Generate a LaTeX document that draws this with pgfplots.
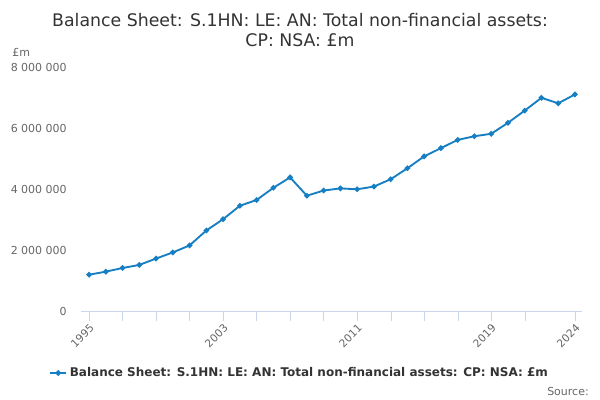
\documentclass[border=0pt]{standalone}
\usepackage{pgfplots}
\pgfplotsset{compat=1.18}
\usepackage{fontspec}
\setmainfont{DejaVu Sans}

\definecolor{lineblue}{RGB}{22,127,196}
\definecolor{txtgray}{RGB}{102,102,102}
\definecolor{titlegray}{RGB}{51,51,51}
\definecolor{gridgray}{RGB}{230,230,230}
\definecolor{axisblue}{RGB}{204,214,235}

\begin{document}
\begin{tikzpicture}[x=0.75pt,y=0.75pt]
	\path[use as bounding box] (0,0) rectangle (600,400);

	% title
	\node[font=\fontsize{13}{15}\selectfont, text=titlegray] at (300,380) {Balance Sheet: S.1HN: LE: AN: Total non-financial assets:};
	\node[font=\fontsize{13}{15}\selectfont, text=titlegray] at (300,360) {CP: NSA: £m};

	% unit label
	\node[font=\fontsize{8.25}{10}\selectfont, text=txtgray, anchor=west, inner sep=0pt] at (12,348) {£m};

	% source
	\node[font=\fontsize{8.25}{10}\selectfont, text=txtgray, anchor=east, inner sep=0pt] at (589,9) {Source:};

	\begin{axis}[
		at={(60.75pt,66.75pt)},
		anchor=south west,
		scale only axis,
		width=375.75pt,
		height=183pt,
		xmin=1994.52, xmax=2024.42,
		ymin=0, ymax=8000000,
		axis y line=none,
		axis x line*=bottom,
		x axis line style={draw=axisblue},
		xtick={1995,2003,2011,2019,2024},
		xticklabels={1995,2003,2011,2019,2024},
		minor xtick={1997,1999,2001,2005,2007,2009,2013,2015,2017,2021},
		xtick style={draw=axisblue},
		minor x tick style={draw=axisblue},
		tick align=outside,
		major tick length=7.5pt,
		minor tick length=7.5pt,
		xticklabel style={rotate=45, anchor=north east, font=\fontsize{8}{10}\selectfont, text=txtgray, inner sep=1pt},
		ytick={0,2000000,4000000,6000000,8000000},
		ymajorgrids=true,
		grid style={draw=gridgray, line width=0.6pt},
		legend style={at={(0.437,-0.254)}, anchor=center, draw=none, fill=none,
			font=\bfseries\fontsize{9}{11}\selectfont, text=titlegray},
		legend image code/.code={
			\draw[mark repeat=2,mark phase=2,#1] plot coordinates {(0cm,0cm)(0.21cm,0cm)(0.42cm,0cm)};
		},
		clip=false,
	]
	\addplot[
		color=lineblue,
		line width=1.4pt,
		mark=*,
		mark size=1.3pt,
	]
	coordinates {
		(1995,1190000)(1996,1290000)(1997,1410000)(1998,1510000)(1999,1720000)
		(2000,1920000)(2001,2150000)(2002,2640000)(2003,3010000)(2004,3450000)
		(2005,3640000)(2006,4040000)(2007,4380000)(2008,3780000)(2009,3950000)
		(2010,4020000)(2011,3990000)(2012,4080000)(2013,4320000)(2014,4680000)
		(2015,5070000)(2016,5340000)(2017,5610000)(2018,5730000)(2019,5810000)
		(2020,6170000)(2021,6570000)(2022,6990000)(2023,6810000)(2024,7100000)
	}; \addlegendentry{Balance Sheet: S.1HN: LE: AN: Total non-financial assets: CP: NSA: £m}
	\end{axis}

	% y tick labels (the y axis line is hidden, so they are set here)
	\foreach \v/\lab in {0/0, 2/2 000 000, 4/4 000 000, 6/6 000 000, 8/8 000 000} {
		\node[font=\fontsize{8.25}{10}\selectfont, text=txtgray, anchor=east, inner sep=0pt] at (67,{89+\v*30.5}) {\lab};
	}
\end{tikzpicture}
\end{document}
